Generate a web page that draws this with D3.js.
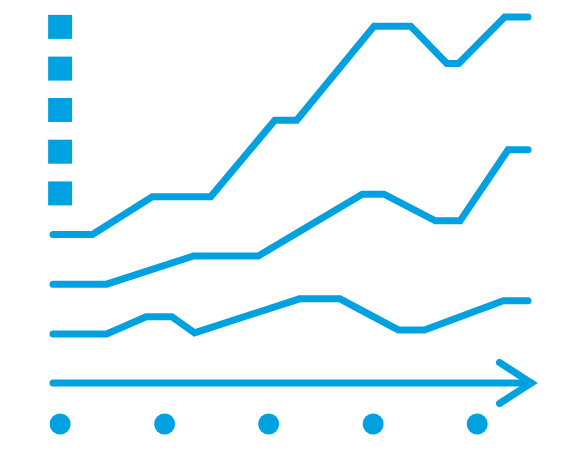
<!DOCTYPE html>
<html>
<head>
<meta charset="utf-8">
<script src="https://cdn.jsdelivr.net/npm/d3@7"></script>
<style>
  html, body { margin: 0; padding: 0; background: #ffffff; }
  svg { display: block; }
</style>
</head>
<body>
<div id="chart"></div>
<script>
// ---- Data (x and y in abstract units 0..100) ----
const seriesTopX    = [0, 8.3, 20.9, 33.2, 46.7, 51.3, 67.6, 75.3, 82.9, 85.4, 95.1, 100];
const seriesTopY    = [40.6, 40.6, 50.9, 50.9, 71.8, 71.8, 97.5, 97.5, 87.3, 87.3, 100, 100];
const seriesMidX    = [0, 11.3, 29.6, 43.2, 65.1, 69.7, 80.5, 85.7, 95.8, 100];
const seriesMidY    = [27.0, 27.0, 34.7, 34.7, 51.6, 51.6, 44.3, 44.3, 63.7, 63.7];
const seriesLowX    = [0, 11.3, 19.6, 25.0, 29.8, 51.9, 60.4, 72.7, 78.2, 94.8, 100];
const seriesLowY    = [13.4, 13.4, 18.1, 18.1, 13.7, 23.0, 23.0, 14.5, 14.5, 22.5, 22.5];
const xTickPositions = [1.5, 23.5, 45.4, 67.4, 89.3];   // dots under the axis
const yTickPositions = [97.3, 85.9, 74.6, 63.2, 51.8];  // squares on the left
const axisEnd = 101.7;

const W = 582, H = 450;
const color = "#00a1e0";

const svg = d3.select("#chart").append("svg")
  .attr("width", W).attr("height", H);

const x = d3.scaleLinear().domain([0, 100]).range([53, 528]);
const y = d3.scaleLinear().domain([0, 100]).range([383, 17]);

const line = d3.line().x(d => x(d[0])).y(d => y(d[1]));

const series = [
  d3.zip(seriesTopX, seriesTopY),
  d3.zip(seriesMidX, seriesMidY),
  d3.zip(seriesLowX, seriesLowY)
];

svg.selectAll("path.series")
  .data(series)
  .join("path")
  .attr("class", "series")
  .attr("d", line)
  .attr("fill", "none")
  .attr("stroke", color)
  .attr("stroke-width", 7)
  .attr("stroke-linejoin", "miter")
  .attr("stroke-linecap", "round");

// x axis line with arrow
svg.append("path")
  .attr("d", line([[0, 0], [axisEnd - 1, 0]]))
  .attr("fill", "none")
  .attr("stroke", color)
  .attr("stroke-width", 7)
  .attr("stroke-linecap", "round");

const arrowBack = 94.0, arrowHalf = 5.6;
svg.append("path")
  .attr("d", line([[arrowBack, arrowHalf], [axisEnd - 1, 0], [arrowBack, -arrowHalf]]))
  .attr("fill", "none")
  .attr("stroke", color)
  .attr("stroke-width", 7)
  .attr("stroke-linejoin", "miter")
  .attr("stroke-linecap", "round");

// dots below axis
svg.selectAll("circle.xtick")
  .data(xTickPositions)
  .join("circle")
  .attr("class", "xtick")
  .attr("cx", d => x(d))
  .attr("cy", y(-11.2))
  .attr("r", 10.5)
  .attr("fill", color);

// squares at left
const sq = 24;
svg.selectAll("rect.ytick")
  .data(yTickPositions)
  .join("rect")
  .attr("class", "ytick")
  .attr("x", x(1.5) - sq / 2)
  .attr("y", d => y(d) - sq / 2)
  .attr("width", sq)
  .attr("height", sq)
  .attr("fill", color);
</script>
</body>
</html>
